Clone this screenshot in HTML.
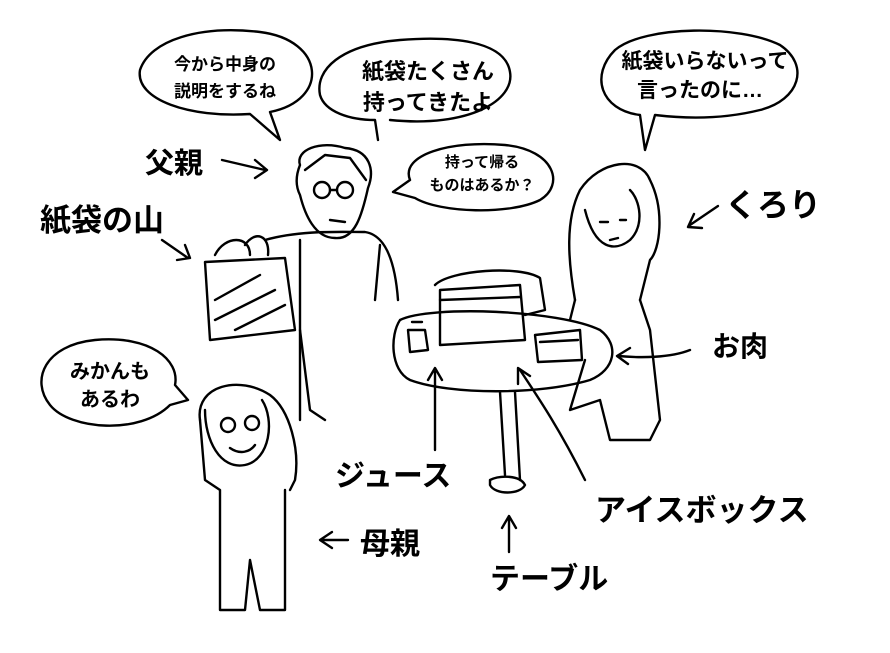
<!DOCTYPE html>
<html><head><meta charset="utf-8">
<style>
html,body{margin:0;padding:0;background:#fff;}
svg{display:block;}
text{font-family:"Liberation Sans","Noto Sans CJK JP",sans-serif;font-weight:bold;fill:#000;}
</style></head>
<body>
<svg width="890" height="653" viewBox="0 0 890 653" xmlns="http://www.w3.org/2000/svg">
<g fill="none" stroke="#000" stroke-width="2.4" stroke-linecap="round" stroke-linejoin="round">
<path d="M270,112 C330,100 325,40 260,32 C200,25 150,40 140,70 C135,100 190,118 250,114 L280,140 Z"/>
<path d="M390,120 C470,128 515,100 510,72 C505,40 450,36 400,40 C340,45 315,70 320,95 C325,112 350,120 375,120 L378,140"/>
<path d="M410,180 C400,155 450,140 505,145 C555,150 565,185 540,200 C510,215 440,213 415,198 L393,192 L410,180"/>
<path d="M640,115 C600,110 590,75 615,50 C645,25 740,25 780,45 C810,65 800,100 760,110 C720,120 680,118 655,115 L645,150 Z"/>
<path d="M170,405 C140,435 70,430 50,405 C30,380 45,345 95,340 C150,335 180,360 175,385 L188,400 Z"/>
<path d="M222,160 L265,170 M255,160 L267,170 L255,178"/>
<path d="M162,240 L188,258 M185,245 L190,258 L177,260"/>
<path d="M718,206 L690,225 M694,214 L688,227 L702,228"/>
<path d="M690,350 C670,358 640,358 618,356 M630,348 L617,356 L628,364"/>
<path d="M435,450 L435,372 M428,380 L435,368 L442,380"/>
<path d="M585,480 C560,430 540,400 520,370 M518,384 L518,368 L530,376"/>
<path d="M348,540 L322,540 M332,532 L320,540 L332,548"/>
<path d="M509,552 L509,518 M502,528 L509,516 L516,528"/>
<path d="M300,165 C295,150 320,140 345,148 C370,150 375,170 368,188 C362,215 355,240 335,238 C315,238 305,215 300,195 C295,185 296,175 300,165 Z"/>
<path d="M305,170 L325,155 L350,158 L366,180"/>
<circle cx="322" cy="190" r="8"/><circle cx="345" cy="190" r="8"/>
<path d="M330,190 L337,190 M330,220 L345,222"/>
<path d="M265,240 C300,230 340,232 365,232 C385,235 395,260 398,300"/>
<path d="M300,240 L300,420 M380,245 L375,300"/>
<path d="M300,330 L310,410 L325,420"/>
<path d="M205,262 L285,258 L295,330 L210,340 Z"/>
<path d="M215,255 C225,235 250,235 250,255 M245,245 C255,230 270,235 268,255"/>
<path d="M215,300 L260,275 M215,320 L275,290 M235,330 L285,305"/>
<path d="M400,320 C430,305 560,310 600,330 C620,345 615,370 590,380 C540,395 450,395 410,380 C390,370 390,335 400,320 Z"/>
<path d="M500,392 L505,475 M515,392 L520,480"/>
<path d="M490,480 C500,475 520,475 525,485 C520,495 495,495 490,485 Z"/>
<path d="M440,290 L520,285 L525,340 L440,345 Z"/>
<path d="M435,285 C450,270 520,265 540,278 L545,310 L525,315"/>
<path d="M440,300 L520,297"/>
<path d="M408,330 L425,330 L428,350 L410,352 Z M412,322 L422,322"/>
<path d="M535,335 L580,330 L582,360 L538,362 Z M540,342 L578,340"/>
<path d="M580,190 C600,160 640,155 650,180 C665,210 660,250 650,260 L640,300 M580,190 C565,220 568,260 575,300"/>
<path d="M585,210 C595,250 615,252 630,240 C645,225 640,200 630,190"/>
<path d="M600,222 L608,222 M620,220 L626,220 M610,240 L618,238"/>
<path d="M575,300 L570,320 M640,300 L650,330 L660,420 L650,440 L610,440 L600,400 L570,410 L585,360"/>
<path d="M200,420 C195,385 240,375 270,395 C290,410 300,450 295,480 L290,490"/>
<path d="M205,410 C205,440 220,470 245,465 C270,460 275,420 262,400"/>
<circle cx="228" cy="425" r="7"/><circle cx="252" cy="423" r="7"/>
<path d="M230,448 C240,455 250,452 255,445"/>
<path d="M200,420 L205,480 L220,490 L220,610 L245,610 L250,560 L260,610 L285,610 L285,490"/>
</g>
<g text-anchor="middle">
<text x="225" y="70" font-size="17">今から中身の</text>
<text x="225" y="97" font-size="17">説明をするね</text>
<text x="428" y="79" font-size="22">紙袋たくさん</text>
<text x="428" y="110" font-size="22">持ってきたよ</text>
<text x="482" y="167" font-size="15">持って帰る</text>
<text x="482" y="190" font-size="15">ものはあるか？</text>
<text x="705" y="68" font-size="21">紙袋いらないって</text>
<text x="700" y="97" font-size="21">言ったのに…</text>
<text x="110" y="378" font-size="20">みかんも</text>
<text x="110" y="406" font-size="20">あるわ</text>
</g>
<text x="145" y="173" font-size="29">父親</text>
<text x="40" y="231" font-size="31">紙袋の山</text>
<text x="725" y="216" font-size="32">くろり</text>
<text x="712" y="356" font-size="28">お肉</text>
<text x="335" y="486" font-size="30">ジュース</text>
<text x="595" y="521" font-size="31">アイスボックス</text>
<text x="360" y="554" font-size="30">母親</text>
<text x="490" y="589" font-size="30">テーブル</text>
</svg>
</body></html>
